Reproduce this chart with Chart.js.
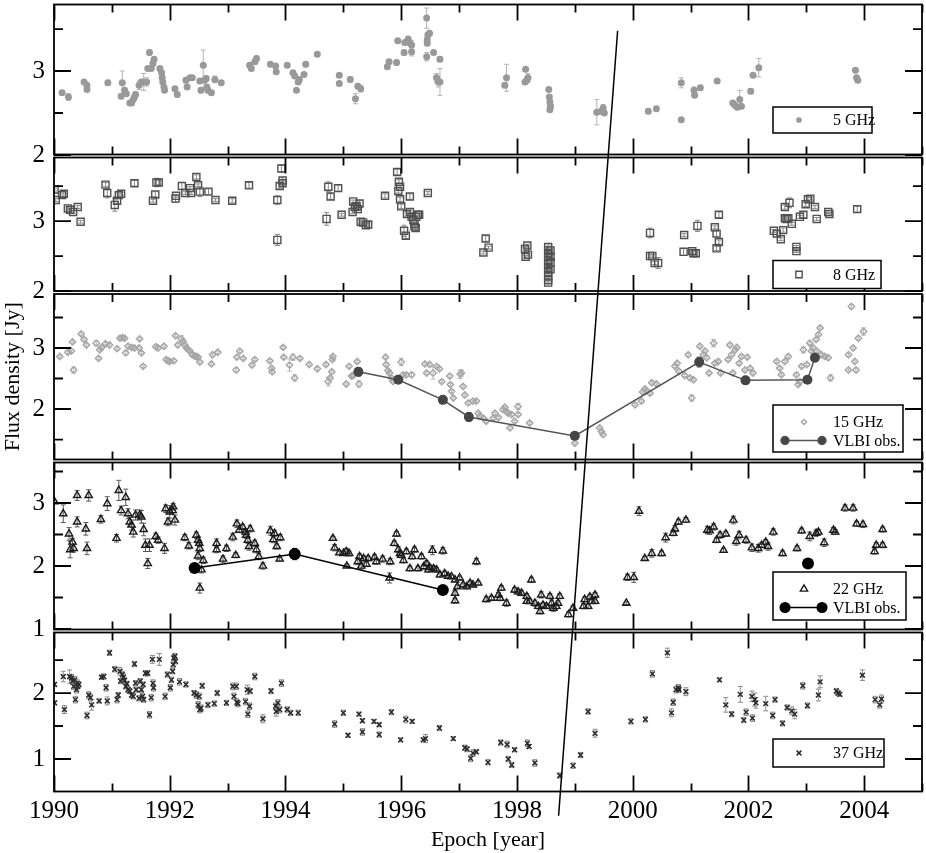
<!DOCTYPE html>
<html>
<head>
  <meta charset="utf-8">
  <title>Flux density light curves</title>
  <script src="https://cdn.jsdelivr.net/npm/chart.js"></script>
  <style>
    body { margin: 0; background: #fff; }
    #chart-container { width: 926px; height: 853px; position: relative; }
  </style>
</head>
<body>
  <div id="chart-container"><canvas id="myChart"></canvas></div>
  <script>
    // each point: [epoch (year), flux density (Jy), error (Jy)]
    const f5 = [
      [1990.14,2.74,0.02],[1990.25,2.69,0.04],[1990.52,2.87,0.02],[1990.57,2.83,0.02],[1990.57,2.78,0.02],[1990.93,2.86,0.03],
      [1991.16,2.70,0.02],[1991.18,2.86,0.14],[1991.22,2.77,0.03],[1991.25,2.73,0.02],[1991.31,2.62,0.02],[1991.34,2.62,0.02],
      [1991.37,2.66,0.02],[1991.39,2.69,0.03],[1991.41,2.72,0.03],[1991.47,2.83,0.05],[1991.51,2.87,0.03],[1991.55,2.87,0.10],
      [1991.60,2.87,0.05],[1991.62,3.03,0.02],[1991.65,3.22,0.03],[1991.68,3.03,0.02],[1991.71,3.09,0.03],[1991.73,3.14,0.02],
      [1991.83,3.03,0.02],[1991.86,2.98,0.02],[1991.87,2.92,0.03],[1991.88,2.87,0.02],[1991.90,2.81,0.02],[1991.91,2.77,0.02],
      [1992.09,2.79,0.02],[1992.13,2.72,0.03],[1992.28,2.89,0.03],[1992.30,2.81,0.02],[1992.35,2.92,0.02],[1992.39,2.92,0.02],
      [1992.52,2.88,0.03],[1992.54,2.77,0.03],[1992.58,3.07,0.18],[1992.60,2.89,0.03],[1992.63,2.91,0.03],[1992.64,2.81,0.03],
      [1992.66,2.77,0.03],[1992.72,2.74,0.02],[1992.78,2.90,0.04],[1992.89,2.86,0.02],[1993.38,3.07,0.02],[1993.41,3.03,0.02],
      [1993.47,3.11,0.03],[1993.50,3.15,0.03],[1993.74,3.08,0.02],[1993.83,3.06,0.02],[1993.84,2.99,0.02],[1994.03,3.07,0.02],
      [1994.13,2.98,0.02],[1994.16,2.94,0.02],[1994.19,2.77,0.02],[1994.22,2.87,0.02],[1994.24,2.90,0.02],[1994.32,2.96,0.02],
      [1994.35,3.08,0.03],[1994.55,3.20,0.02],[1994.93,2.95,0.02],[1994.93,2.85,0.02],[1995.12,2.90,0.03],[1995.21,2.67,0.06],
      [1995.25,2.82,0.03],[1995.30,2.79,0.04],[1995.76,3.05,0.02],[1995.79,3.11,0.02],[1995.92,3.10,0.03],[1995.94,3.36,0.02],
      [1996.05,3.22,0.03],[1996.06,3.34,0.02],[1996.12,3.38,0.02],[1996.14,3.34,0.03],[1996.18,3.31,0.05],[1996.18,3.23,0.05],
      [1996.44,3.63,0.12],[1996.45,3.37,0.03],[1996.46,3.43,0.03],[1996.49,3.45,0.03],[1996.44,3.17,0.05],[1996.45,3.33,0.03],
      [1996.56,3.22,0.02],[1996.61,2.92,0.05],[1996.64,2.87,0.06],[1996.67,3.14,0.03],[1996.67,2.87,0.16],[1997.79,2.83,0.03],
      [1997.82,2.92,0.16],[1998.14,2.87,0.02],[1998.15,3.02,0.02],[1998.17,2.89,0.02],[1998.19,2.92,0.05],[1998.55,2.78,0.02],
      [1998.56,2.69,0.02],[1998.57,2.63,0.02],[1998.58,2.58,0.02],[1998.57,2.54,0.02],[1999.38,2.51,0.15],[1999.46,2.52,0.03],
      [1999.49,2.56,0.04],[1999.51,2.50,0.03],[2000.27,2.52,0.03],[2000.41,2.55,0.02],[2000.84,2.86,0.06],[2000.84,2.42,0.02],
      [2001.06,2.77,0.04],[2001.07,2.71,0.02],[2001.17,2.80,0.03],[2001.46,2.88,0.02],[2001.73,2.62,0.02],[2001.77,2.59,0.02],
      [2001.81,2.57,0.02],[2001.85,2.66,0.11],[2001.88,2.58,0.02],[2002.04,2.76,0.03],[2002.08,2.95,0.02],[2002.18,3.04,0.11],
      [2003.85,3.01,0.02],[2003.87,2.92,0.02],[2003.89,2.89,0.02]
    ];
    const f8 = [
      [1990.01,3.45,0.02],[1990.03,3.30,0.02],[1990.14,3.37,0.03],[1990.17,3.39,0.04],[1990.24,3.18,0.02],[1990.28,3.16,0.02],
      [1990.33,3.13,0.02],[1990.41,3.20,0.02],[1990.46,2.99,0.02],[1990.89,3.52,0.03],[1990.92,3.40,0.07],[1991.05,3.23,0.09],
      [1991.09,3.29,0.04],[1991.12,3.37,0.03],[1991.16,3.39,0.02],[1991.39,3.54,0.04],[1991.71,3.29,0.02],[1991.75,3.38,0.04],
      [1991.77,3.55,0.06],[1991.81,3.55,0.03],[1992.10,3.32,0.05],[1992.11,3.36,0.02],[1992.21,3.50,0.05],[1992.27,3.40,0.02],
      [1992.35,3.47,0.02],[1992.37,3.40,0.02],[1992.46,3.63,0.03],[1992.49,3.51,0.02],[1992.52,3.42,0.07],[1992.67,3.42,0.04],
      [1992.79,3.30,0.02],[1993.08,3.29,0.03],[1993.37,3.51,0.04],[1993.86,3.30,0.06],[1993.86,2.73,0.08],[1993.90,3.50,0.04],
      [1993.93,3.75,0.05],[1993.95,3.58,0.04],[1993.95,3.54,0.03],[1994.71,3.03,0.09],[1994.74,3.49,0.07],[1994.78,3.35,0.04],
      [1994.91,3.47,0.04],[1994.97,3.09,0.02],[1995.16,3.13,0.02],[1995.17,3.28,0.02],[1995.20,3.20,0.03],[1995.23,3.21,0.03],
      [1995.25,3.17,0.02],[1995.28,3.25,0.04],[1995.30,2.99,0.02],[1995.34,2.98,0.02],[1995.39,2.94,0.02],[1995.43,2.95,0.04],
      [1995.72,3.36,0.03],[1995.93,3.70,0.04],[1995.96,3.56,0.03],[1995.98,3.49,0.02],[1995.95,3.43,0.03],[1995.98,3.31,0.03],
      [1996.00,3.21,0.03],[1996.05,2.86,0.08],[1996.08,2.79,0.04],[1996.10,3.10,0.03],[1996.15,3.35,0.04],[1996.15,3.13,0.03],
      [1996.18,3.06,0.02],[1996.21,3.01,0.02],[1996.23,2.96,0.02],[1996.23,2.92,0.03],[1996.25,2.90,0.03],[1996.26,3.06,0.02],
      [1996.29,3.09,0.02],[1996.31,3.09,0.02],[1996.46,3.40,0.02],[1997.42,2.55,0.02],[1997.46,2.75,0.04],[1997.51,2.62,0.02],
      [1998.14,2.60,0.02],[1998.15,2.49,0.02],[1998.18,2.65,0.02],[1998.19,2.52,0.02],[1998.54,2.63,0.03],[1998.54,2.58,0.02],
      [1998.54,2.54,0.02],[1998.54,2.49,0.02],[1998.54,2.44,0.02],[1998.54,2.39,0.02],[1998.54,2.33,0.02],[1998.54,2.27,0.02],
      [1998.54,2.21,0.02],[1998.54,2.16,0.02],[1998.54,2.12,0.03],[1998.58,2.58,0.02],[1998.58,2.49,0.02],[1998.58,2.41,0.02],
      [1998.58,2.31,0.02],[2000.30,2.83,0.07],[2000.30,2.50,0.02],[2000.34,2.50,0.02],[2000.38,2.40,0.02],[2000.44,2.40,0.08],
      [2000.89,2.80,0.02],[2000.88,2.56,0.05],[2001.03,2.57,0.03],[2001.05,2.54,0.03],[2001.09,2.54,0.04],[2001.12,2.93,0.08],
      [2001.42,2.91,0.02],[2001.45,2.82,0.04],[2001.49,3.09,0.04],[2001.49,2.70,0.03],[2001.45,2.61,0.03],[2002.44,2.86,0.02],
      [2002.49,2.82,0.04],[2002.56,2.74,0.02],[2002.60,2.87,0.03],[2002.63,3.04,0.02],[2002.63,3.20,0.03],[2002.71,3.26,0.07],
      [2002.66,3.03,0.03],[2002.69,3.04,0.04],[2002.75,2.96,0.02],[2002.83,2.63,0.02],[2002.83,2.57,0.02],[2002.89,3.06,0.02],
      [2002.95,3.09,0.04],[2002.99,3.24,0.03],[2003.03,3.31,0.05],[2003.07,3.32,0.02],[2003.15,3.20,0.02],[2003.18,3.03,0.02],
      [2003.38,3.13,0.02],[2003.40,3.10,0.02],[2003.88,3.17,0.04]
    ];
    const f15 = [
      [1990.10,2.86,0.02],[1990.24,2.93,0.02],[1990.30,2.95,0.02],[1990.32,3.10,0.02],[1990.34,2.64,0.05],[1990.47,3.23,0.02],
      [1990.52,3.14,0.02],[1990.56,3.05,0.02],[1990.73,3.08,0.04],[1990.77,2.83,0.02],[1990.79,2.97,0.02],[1990.82,3.01,0.02],
      [1990.89,3.07,0.02],[1990.96,3.05,0.02],[1991.09,2.99,0.02],[1991.14,3.16,0.02],[1991.18,3.17,0.03],[1991.22,3.16,0.02],
      [1991.24,2.92,0.03],[1991.28,3.03,0.02],[1991.34,3.01,0.02],[1991.39,3.00,0.02],[1991.47,3.00,0.02],[1991.48,3.15,0.02],
      [1991.51,2.92,0.02],[1991.54,2.70,0.02],[1991.76,3.02,0.02],[1991.80,3.00,0.02],[1991.90,3.03,0.02],[1991.94,2.81,0.03],
      [1991.97,2.79,0.04],[1992.00,2.78,0.02],[1992.07,2.79,0.02],[1992.10,3.20,0.02],[1992.14,3.05,0.02],[1992.20,3.15,0.05],
      [1992.23,3.11,0.02],[1992.26,3.05,0.02],[1992.29,3.00,0.02],[1992.32,2.97,0.02],[1992.35,2.95,0.02],[1992.39,2.89,0.02],
      [1992.43,2.87,0.02],[1992.46,2.86,0.02],[1992.49,2.85,0.02],[1992.52,2.77,0.02],[1992.72,2.74,0.02],[1992.74,2.89,0.02],
      [1992.83,2.93,0.02],[1993.15,2.64,0.03],[1993.16,2.85,0.02],[1993.21,2.95,0.02],[1993.27,2.83,0.02],[1993.42,2.72,0.02],
      [1993.47,2.81,0.02],[1993.73,2.79,0.02],[1993.76,2.67,0.02],[1993.77,2.61,0.02],[1993.96,3.01,0.02],[1993.97,2.85,0.02],
      [1994.07,2.72,0.10],[1994.13,2.85,0.05],[1994.16,2.51,0.05],[1994.25,2.83,0.02],[1994.41,2.73,0.02],[1994.55,2.66,0.02],
      [1994.70,2.73,0.02],[1994.74,2.45,0.07],[1994.77,2.51,0.02],[1994.80,2.61,0.02],[1994.81,2.81,0.02],[1994.82,2.86,0.02],
      [1995.05,2.41,0.02],[1995.10,2.70,0.02],[1995.14,2.54,0.02],[1995.17,2.55,0.02],[1995.24,2.78,0.02],[1995.27,2.41,0.05],
      [1995.73,2.85,0.02],[1995.74,2.73,0.02],[1995.77,2.63,0.02],[1995.80,2.59,0.02],[1995.83,2.51,0.02],[1995.86,2.45,0.02],
      [1995.92,2.50,0.02],[1996.00,2.77,0.06],[1996.03,2.56,0.02],[1996.09,2.56,0.02],[1996.18,2.56,0.03],[1996.41,2.74,0.02],
      [1996.44,2.59,0.02],[1996.49,2.73,0.02],[1996.55,2.59,0.10],[1996.61,2.70,0.02],[1996.66,2.66,0.02],[1996.70,2.45,0.02],
      [1996.84,2.54,0.02],[1996.85,2.40,0.02],[1996.87,2.29,0.02],[1996.90,2.18,0.02],[1997.02,2.57,0.07],[1997.04,2.59,0.05],
      [1997.07,2.37,0.02],[1997.10,2.23,0.02],[1997.16,2.10,0.02],[1997.24,2.13,0.02],[1997.30,2.13,0.02],[1997.33,1.93,0.02],
      [1997.36,1.88,0.02],[1997.42,1.85,0.02],[1997.47,1.80,0.02],[1997.59,1.85,0.02],[1997.62,1.93,0.02],[1997.68,1.86,0.02],
      [1997.76,1.99,0.02],[1997.79,2.03,0.02],[1997.82,1.96,0.02],[1997.85,1.93,0.02],[1997.88,1.69,0.02],[1997.91,1.91,0.02],
      [1997.96,1.80,0.02],[1998.02,2.04,0.05],[1998.02,1.91,0.02],[1998.22,1.77,0.02],[1999.00,1.44,0.02],[1999.43,1.69,0.02],
      [1999.46,1.63,0.02],[1999.49,1.58,0.02],[2000.04,2.07,0.02],[2000.15,2.13,0.02],[2000.17,2.28,0.02],[2000.21,2.33,0.02],
      [2000.24,2.30,0.02],[2000.30,2.26,0.02],[2000.33,2.43,0.02],[2000.41,2.41,0.02],[2000.73,2.70,0.02],[2000.77,2.75,0.02],
      [2000.80,2.62,0.02],[2000.90,2.55,0.02],[2000.96,2.89,0.02],[2000.99,2.51,0.02],[2001.02,2.18,0.05],[2001.05,2.48,0.02],
      [2001.16,3.03,0.02],[2001.22,2.89,0.02],[2001.25,2.95,0.02],[2001.28,2.84,0.02],[2001.32,2.59,0.02],[2001.40,3.08,0.06],
      [2001.42,2.75,0.02],[2001.48,2.78,0.02],[2001.52,2.59,0.02],[2001.65,2.81,0.02],[2001.68,3.05,0.02],[2001.71,2.89,0.02],
      [2001.73,2.59,0.02],[2001.77,2.97,0.02],[2001.80,3.01,0.02],[2001.84,2.75,0.02],[2001.88,2.86,0.02],[2001.94,2.64,0.02],
      [2001.98,2.85,0.02],[2002.03,2.67,0.02],[2002.08,2.59,0.02],[2002.49,2.78,0.02],[2002.54,2.67,0.02],[2002.57,2.56,0.02],
      [2002.63,2.78,0.02],[2002.69,2.86,0.02],[2002.83,2.56,0.02],[2002.86,2.40,0.02],[2002.89,2.45,0.02],[2002.92,2.70,0.02],
      [2002.95,2.97,0.05],[2003.01,2.73,0.02],[2003.06,3.08,0.02],[2003.09,2.95,0.02],[2003.12,3.00,0.02],[2003.17,3.14,0.02],
      [2003.21,3.22,0.02],[2003.24,3.33,0.02],[2003.18,2.95,0.02],[2003.26,2.89,0.02],[2003.32,2.86,0.02],[2003.38,2.84,0.02],
      [2003.42,2.51,0.05],[2003.73,2.89,0.02],[2003.73,2.64,0.02],[2003.78,3.68,0.03],[2003.81,3.00,0.02],[2003.84,2.78,0.02],
      [2003.86,2.64,0.03],[2003.90,3.16,0.02],[2003.99,3.27,0.06]
    ];
    const vlbi15 = [
      [1995.26,2.61,0.07],[1995.95,2.48,0.06],[1996.72,2.15,0.06],[1997.17,1.87,0.07],[1999.00,1.56,0.05],
      [2001.15,2.77,0.08],[2001.95,2.47,0.05],[2003.02,2.48,0.06],[2003.15,2.84,0.06]
    ];
    const f22 = [
      [1990.01,3.02,0.02],[1990.16,2.83,0.14],[1990.26,2.51,0.10],[1990.28,2.26,0.13],[1990.32,2.38,0.06],[1990.34,2.28,0.06],
      [1990.40,3.12,0.08],[1990.40,2.70,0.08],[1990.55,2.59,0.10],[1990.57,2.28,0.10],[1990.60,3.12,0.09],[1990.81,2.74,0.06],
      [1990.92,2.99,0.11],[1991.08,2.44,0.06],[1991.12,3.20,0.16],[1991.16,2.88,0.07],[1991.24,3.09,0.13],[1991.28,2.83,0.08],
      [1991.31,2.70,0.07],[1991.34,2.65,0.08],[1991.37,2.54,0.08],[1991.41,2.81,0.08],[1991.48,2.81,0.08],[1991.51,2.78,0.10],
      [1991.55,2.58,0.10],[1991.58,2.33,0.10],[1991.62,2.04,0.08],[1991.65,2.33,0.10],[1991.76,2.47,0.05],[1991.80,2.41,0.05],
      [1991.91,2.28,0.08],[1991.93,2.91,0.06],[1991.97,2.70,0.06],[1992.00,2.86,0.10],[1992.05,2.88,0.06],[1992.06,2.94,0.05],
      [1992.09,2.73,0.08],[1992.26,2.45,0.05],[1992.33,2.32,0.05],[1992.46,2.49,0.05],[1992.49,2.41,0.05],[1992.51,2.36,0.05],
      [1992.52,2.28,0.05],[1992.49,2.16,0.06],[1992.52,1.65,0.08],[1992.58,2.09,0.05],[1992.55,1.94,0.05],[1992.81,2.36,0.07],
      [1992.81,2.26,0.05],[1992.92,2.11,0.05],[1992.98,2.28,0.05],[1993.09,2.46,0.06],[1993.14,2.17,0.04],[1993.16,2.67,0.06],
      [1993.20,2.57,0.04],[1993.26,2.62,0.04],[1993.31,2.54,0.05],[1993.32,2.49,0.05],[1993.35,2.41,0.05],[1993.37,2.31,0.06],
      [1993.39,2.59,0.05],[1993.47,2.36,0.05],[1993.50,2.26,0.05],[1993.54,2.15,0.05],[1993.61,2.00,0.05],[1993.74,2.56,0.07],
      [1993.79,2.42,0.05],[1993.81,2.52,0.05],[1993.85,2.31,0.04],[1993.90,2.11,0.03],[1993.91,2.45,0.05],[1994.82,2.44,0.03],
      [1994.85,2.29,0.05],[1994.93,2.21,0.03],[1995.00,2.20,0.03],[1995.05,2.23,0.05],[1995.06,2.00,0.02],[1995.10,2.20,0.04],
      [1995.25,2.07,0.05],[1995.28,2.15,0.04],[1995.31,2.00,0.05],[1995.35,2.12,0.04],[1995.40,2.03,0.04],[1995.43,2.12,0.04],
      [1995.54,2.14,0.04],[1995.57,2.07,0.04],[1995.68,2.11,0.05],[1995.80,1.81,0.08],[1995.81,2.07,0.05],[1995.88,2.36,0.04],
      [1995.92,2.51,0.04],[1995.95,2.26,0.05],[1995.98,2.20,0.04],[1996.00,2.17,0.04],[1996.04,2.09,0.04],[1996.09,2.23,0.04],
      [1996.15,1.96,0.04],[1996.19,2.15,0.04],[1996.23,2.26,0.04],[1996.29,1.96,0.04],[1996.35,2.15,0.04],[1996.39,1.99,0.04],
      [1996.44,2.04,0.04],[1996.47,1.94,0.04],[1996.49,1.98,0.04],[1996.54,2.25,0.07],[1996.56,1.96,0.04],[1996.61,1.94,0.04],
      [1996.67,1.86,0.04],[1996.72,2.24,0.05],[1996.75,1.88,0.04],[1996.81,1.84,0.03],[1996.87,1.83,0.03],[1996.93,1.78,0.03],
      [1996.97,1.67,0.03],[1996.93,1.57,0.04],[1996.93,1.45,0.04],[1997.01,1.81,0.03],[1997.07,1.70,0.03],[1997.13,1.67,0.03],
      [1997.19,1.73,0.03],[1997.24,1.70,0.03],[1997.33,1.73,0.03],[1997.30,2.07,0.05],[1997.47,1.47,0.04],[1997.56,1.49,0.03],
      [1997.68,1.54,0.04],[1997.71,1.49,0.04],[1997.73,1.65,0.04],[1997.82,1.41,0.05],[1997.96,1.62,0.04],[1998.02,1.59,0.04],
      [1998.08,1.57,0.04],[1998.17,1.52,0.04],[1998.17,1.44,0.04],[1998.22,1.44,0.04],[1998.25,1.78,0.04],[1998.31,1.41,0.05],
      [1998.37,1.36,0.04],[1998.40,1.28,0.04],[1998.42,1.54,0.05],[1998.45,1.38,0.04],[1998.51,1.36,0.04],[1998.57,1.52,0.04],
      [1998.60,1.41,0.05],[1998.63,1.33,0.05],[1998.68,1.36,0.04],[1998.71,1.41,0.04],[1998.74,1.52,0.04],[1998.89,1.23,0.04],
      [1998.97,1.33,0.04],[1999.15,1.36,0.04],[1999.17,1.47,0.04],[1999.23,1.36,0.04],[1999.26,1.51,0.04],[1999.29,1.44,0.04],
      [1999.35,1.54,0.04],[1999.35,1.44,0.04],[1999.89,1.41,0.02],[1999.91,1.82,0.05],[2000.02,1.82,0.08],[2000.11,2.87,0.07],
      [2000.21,2.12,0.03],[2000.33,2.20,0.06],[2000.50,2.20,0.04],[2000.57,2.45,0.07],[2000.70,2.52,0.04],[2000.73,2.59,0.05],
      [2000.79,2.70,0.04],[2000.92,2.73,0.04],[2001.29,2.57,0.06],[2001.33,2.56,0.06],[2001.40,2.62,0.05],[2001.45,2.41,0.04],
      [2001.51,2.49,0.05],[2001.57,2.25,0.03],[2001.61,2.51,0.04],[2001.74,2.73,0.06],[2001.79,2.39,0.06],[2001.84,2.49,0.06],
      [2001.96,2.41,0.05],[2002.06,2.29,0.06],[2002.17,2.28,0.06],[2002.23,2.33,0.04],[2002.30,2.38,0.04],[2002.34,2.31,0.06],
      [2002.43,2.54,0.05],[2002.59,2.20,0.04],[2002.84,2.28,0.04],[2002.92,2.56,0.04],[2003.06,2.47,0.07],[2003.17,2.52,0.05],
      [2003.21,2.54,0.04],[2003.31,2.37,0.06],[2003.47,2.57,0.04],[2003.50,2.54,0.04],[2003.67,2.92,0.05],[2003.81,2.92,0.05],
      [2003.87,2.67,0.04],[2003.98,2.66,0.05],[2004.18,2.23,0.04],[2004.21,2.33,0.04],[2004.32,2.33,0.04],[2004.32,2.58,0.04]
    ];
    const vlbi22 = [[1992.43,1.97,0.02],[1994.16,2.19,0.09],[1996.72,1.62,0.02]];
    const vlbi22Late = [[2003.03,2.04,0.02]];
    const f37 = [
      [1990.01,2.13,0.03],[1990.01,1.85,0.03],[1990.16,2.25,0.08],[1990.18,1.75,0.06],[1990.27,2.25,0.10],[1990.30,2.23,0.05],
      [1990.32,2.18,0.05],[1990.34,2.10,0.05],[1990.36,2.20,0.05],[1990.37,1.90,0.05],[1990.39,2.05,0.05],[1990.40,2.15,0.05],
      [1990.41,2.10,0.04],[1990.43,2.13,0.04],[1990.57,1.66,0.05],[1990.60,1.97,0.05],[1990.63,1.93,0.05],[1990.65,1.82,0.08],
      [1990.78,1.88,0.03],[1990.82,2.24,0.03],[1990.86,2.25,0.04],[1990.90,2.08,0.05],[1990.92,1.88,0.06],[1990.96,2.61,0.04],
      [1991.05,2.36,0.04],[1991.09,1.90,0.05],[1991.11,1.97,0.04],[1991.14,2.33,0.06],[1991.15,2.18,0.04],[1991.18,2.28,0.05],
      [1991.20,2.24,0.05],[1991.22,2.19,0.05],[1991.24,2.10,0.04],[1991.26,2.14,0.04],[1991.28,2.05,0.04],[1991.31,2.03,0.04],
      [1991.34,1.97,0.04],[1991.37,1.95,0.04],[1991.39,2.44,0.04],[1991.41,2.15,0.04],[1991.42,2.05,0.04],[1991.47,1.92,0.04],
      [1991.49,2.18,0.04],[1991.51,2.05,0.04],[1991.53,1.95,0.04],[1991.54,2.13,0.04],[1991.55,1.90,0.04],[1991.58,2.30,0.04],
      [1991.62,2.30,0.04],[1991.65,1.67,0.05],[1991.68,1.93,0.05],[1991.70,2.51,0.06],[1991.71,2.15,0.05],[1991.72,2.08,0.05],
      [1991.82,2.51,0.09],[1991.92,1.95,0.05],[1991.96,2.28,0.04],[1992.01,2.08,0.05],[1992.03,2.20,0.04],[1992.05,2.33,0.04],
      [1992.06,2.43,0.04],[1992.07,2.53,0.04],[1992.09,2.56,0.04],[1992.10,2.48,0.04],[1992.17,2.17,0.05],[1992.28,2.13,0.04],
      [1992.42,2.00,0.04],[1992.46,1.97,0.05],[1992.49,1.82,0.05],[1992.51,1.95,0.05],[1992.52,1.75,0.05],[1992.54,1.77,0.05],
      [1992.56,2.11,0.04],[1992.66,1.82,0.04],[1992.77,1.84,0.04],[1992.82,2.00,0.04],[1992.98,1.85,0.04],[1993.09,2.10,0.05],
      [1993.11,1.95,0.05],[1993.15,2.10,0.05],[1993.16,1.86,0.05],[1993.18,1.84,0.05],[1993.31,1.87,0.05],[1993.34,2.05,0.07],
      [1993.35,1.68,0.05],[1993.38,1.80,0.05],[1993.39,2.03,0.04],[1993.47,2.25,0.05],[1993.61,1.61,0.06],[1993.75,2.03,0.04],
      [1993.83,1.80,0.05],[1993.84,1.72,0.07],[1993.87,1.85,0.05],[1993.90,1.75,0.05],[1993.93,2.15,0.05],[1994.03,1.75,0.04],
      [1994.09,1.70,0.04],[1994.22,1.70,0.04],[1994.85,1.53,0.05],[1995.00,1.70,0.04],[1995.08,1.36,0.03],[1995.27,1.68,0.03],
      [1995.33,1.58,0.03],[1995.33,1.41,0.05],[1995.53,1.57,0.03],[1995.62,1.52,0.03],[1995.62,1.37,0.04],[1995.83,1.71,0.04],
      [1995.99,1.29,0.03],[1996.08,1.60,0.05],[1996.19,1.57,0.03],[1996.38,1.29,0.03],[1996.42,1.31,0.06],[1996.66,1.47,0.04],
      [1996.90,1.31,0.03],[1997.10,1.17,0.04],[1997.14,1.15,0.04],[1997.20,1.01,0.05],[1997.24,1.09,0.05],[1997.30,1.11,0.03],
      [1997.50,0.95,0.04],[1997.72,1.25,0.04],[1997.83,1.22,0.05],[1997.85,1.00,0.04],[1997.91,0.91,0.04],[1997.96,1.14,0.03],
      [1998.18,1.24,0.05],[1998.21,1.19,0.03],[1998.31,0.94,0.05],[1998.74,0.75,0.04],[1998.97,0.90,0.04],[1999.10,1.06,0.04],
      [1999.23,1.72,0.04],[1999.35,1.39,0.06],[1999.97,1.57,0.04],[2000.22,1.60,0.04],[2000.34,2.29,0.05],[2000.60,2.61,0.07],
      [2000.67,1.70,0.06],[2000.70,1.86,0.05],[2000.75,2.05,0.05],[2000.79,2.08,0.05],[2000.80,2.05,0.04],[2000.92,2.02,0.06],
      [2001.50,2.20,0.03],[2001.61,1.82,0.11],[2001.71,1.68,0.04],[2001.86,1.98,0.12],[2001.92,1.59,0.04],[2001.96,1.71,0.05],
      [2002.06,1.95,0.08],[2002.07,1.62,0.05],[2002.11,1.90,0.10],[2002.13,1.85,0.08],[2002.30,1.84,0.11],[2002.42,1.66,0.05],
      [2002.46,1.90,0.04],[2002.59,1.54,0.04],[2002.67,1.78,0.04],[2002.75,1.73,0.06],[2002.80,1.68,0.07],[2002.94,2.11,0.05],
      [2003.02,1.81,0.04],[2003.21,1.97,0.09],[2003.24,2.17,0.09],[2003.52,2.03,0.04],[2003.55,2.00,0.03],[2003.58,1.98,0.03],
      [2003.97,2.27,0.08],[2004.19,1.90,0.05],[2004.27,1.82,0.05],[2004.30,1.91,0.06]
    ];

    // axis ticks and ranges
    const yearTicks = [1990, 1991, 1992, 1993, 1994, 1995, 1996, 1997, 1998, 1999, 2000, 2001, 2002, 2003, 2004, 2005];
    const p1Ticks = [2, 2.5, 3, 3.5];
    const p2Ticks = [2, 2.5, 3, 3.5];
    const p3Ticks = [1.5, 2, 2.5, 3, 3.5];
    const p4Ticks = [1, 1.5, 2, 2.5, 3, 3.5];
    const p5Ticks = [1, 1.5, 2, 2.5];
    // the straight line drawn across all panels: [epoch, flux, panel]
    const guideYear = [1999.74, 1998.72];
    const guideFlux = [3.48, 0.14];
    const guideAxis = ['y1', 'y5'];

    const serif = "'Liberation Serif', 'Times New Roman', serif";
    Chart.defaults.color = '#000';
    Chart.defaults.font.family = serif;

    const pts = arr => arr.map(p => ({x: p[0], y: p[1]}));
    const errs = arr => arr.map(p => p[2]);

    function panelAxis(ticks, min, max, weight, title) {
      return {
        type: 'linear', position: 'left', stack: 'flux', stackWeight: weight,
        min: min, max: max,
        afterBuildTicks: s => { s.ticks = ticks.map(v => ({value: v})); },
        afterFit: s => { s.width = 54; s.paddingTop = 0; s.paddingBottom = 0; },
        grid: {display: false, drawTicks: false},
        border: {display: false},
        ticks: {
          font: {family: serif, size: 25}, color: '#000', padding: 9, autoSkip: false,
          callback: v => Number.isInteger(v) ? String(v) : ''
        },
        title: title ? {display: true, text: title, font: {family: serif, size: 22}, color: '#000', padding: {top: 0, bottom: 0}} : {display: false}
      };
    }

    // error bars under the markers
    const errorBars = {
      id: 'errorBars',
      beforeDatasetsDraw(chart) {
        const ctx = chart.ctx;
        const area = chart.chartArea;
        chart.data.datasets.forEach((ds, i) => {
          if (!ds.errors) return;
          const meta = chart.getDatasetMeta(i);
          const ys = chart.scales[ds.yAxisID];
          ctx.save();
          ctx.beginPath();
          ctx.rect(area.left, ys.top, area.right - area.left, ys.bottom - ys.top);
          ctx.clip();
          ctx.strokeStyle = ds.errorColor;
          ctx.lineWidth = 1;
          meta.data.forEach((el, j) => {
            const e = ds.errors[j];
            if (!e) return;
            const v = ds.data[j].y;
            const y1 = ys.getPixelForValue(v + e);
            const y2 = ys.getPixelForValue(v - e);
            const x = el.x;
            ctx.beginPath();
            ctx.moveTo(x, y1); ctx.lineTo(x, y2);
            ctx.moveTo(x - 2.5, y1); ctx.lineTo(x + 2.5, y1);
            ctx.moveTo(x - 2.5, y2); ctx.lineTo(x + 2.5, y2);
            ctx.stroke();
          });
          ctx.restore();
        });
      }
    };

    // boxes round each panel, with ticks pointing inwards
    const panelIds = ['y1', 'y2', 'y3', 'y4', 'y5'];
    const frames = {
      id: 'frames',
      afterDatasetsDraw(chart) {
        const ctx = chart.ctx;
        const xs = chart.scales.x;
        const left = chart.chartArea.left, right = chart.chartArea.right;
        ctx.save();
        ctx.strokeStyle = '#000';
        ctx.lineWidth = 1.8;
        panelIds.forEach(id => {
          const ys = chart.scales[id];
          const top = ys.top + 1.5, bottom = ys.bottom - 1.5;
          ctx.strokeRect(left, top, right - left, bottom - top);
          ctx.beginPath();
          xs.ticks.forEach(t => {
            const px = Math.round(xs.getPixelForValue(t.value)) + 0.5;
            const len = t.value % 2 === 0 ? 16 : 8;
            ctx.moveTo(px, top); ctx.lineTo(px, top + len);
            ctx.moveTo(px, bottom); ctx.lineTo(px, bottom - len);
          });
          ys.ticks.forEach(t => {
            const py = ys.getPixelForValue(t.value);
            const len = Number.isInteger(t.value) ? 17 : 9;
            ctx.moveTo(left, py); ctx.lineTo(left + len, py);
            ctx.moveTo(right, py); ctx.lineTo(right - len, py);
          });
          ctx.stroke();
        });
        ctx.restore();
      }
    };

    const legendBoxes = [
      {axis: 'y1', width: 99, height: 26, lift: 23, rows: [{ds: 0, text: '5 GHz', size: 0.6}]},
      {axis: 'y2', width: 108, height: 28, lift: 4, rows: [{ds: 1, text: '8 GHz', size: 0.9}]},
      {axis: 'y3', width: 130, height: 47, lift: 9, rows: [{ds: 2, text: '15 GHz', size: 0.8}, {ds: 3, text: 'VLBI obs.', line: true, size: 0.8}]},
      {axis: 'y4', width: 133, height: 48, lift: 11, rows: [{ds: 4, text: '22 GHz', size: 1}, {ds: 5, text: 'VLBI obs.', line: true, size: 0.8}]},
      {axis: 'y5', width: 111, height: 28, lift: 26, rows: [{ds: 7, text: '37 GHz', size: 1}]}
    ];

    function marker(ctx, ds, x, y, scale) {
      ctx.fillStyle = ds.pointBackgroundColor || ds.backgroundColor;
      ctx.strokeStyle = ds.pointBorderColor || ds.borderColor;
      ctx.lineWidth = ds.pointBorderWidth != null ? ds.pointBorderWidth : 1;
      const r = ds.pointRadius * scale;
      if (Chart.helpers && Chart.helpers.drawPoint) {
        Chart.helpers.drawPoint(ctx, {pointStyle: ds.pointStyle, radius: r, borderWidth: ctx.lineWidth, rotation: 0}, x, y);
      } else {
        ctx.beginPath(); ctx.arc(x, y, r, 0, Math.PI * 2); ctx.fill(); ctx.stroke();
      }
    }

    const panelLegends = {
      id: 'panelLegends',
      afterDraw(chart) {
        const ctx = chart.ctx;
        const left = chart.chartArea.left + 719;
        ctx.save();
        legendBoxes.forEach(b => {
          const ys = chart.scales[b.axis];
          const top = ys.bottom - b.lift - b.height;
          ctx.fillStyle = '#fff';
          ctx.fillRect(left, top, b.width, b.height);
          ctx.strokeStyle = '#000';
          ctx.lineWidth = 1.5;
          ctx.strokeRect(left, top, b.width, b.height);
          b.rows.forEach((r, k) => {
            const cy = b.rows.length === 1 ? top + b.height / 2 : top + 17 + k * 18.5;
            const ds = chart.data.datasets[r.ds];
            const mx = b.rows.length === 1 ? left + 26 : left + 31;
            if (r.line) {
              ctx.strokeStyle = ds.borderColor;
              ctx.lineWidth = 1.5;
              ctx.beginPath(); ctx.moveTo(left + 12, cy); ctx.lineTo(left + 49, cy); ctx.stroke();
              marker(ctx, ds, left + 12, cy, r.size);
              marker(ctx, ds, left + 49, cy, r.size);
            } else {
              marker(ctx, ds, mx, cy, r.size);
            }
            ctx.fillStyle = '#000';
            ctx.font = '16px ' + serif;
            ctx.textBaseline = 'middle';
            ctx.textAlign = 'left';
            ctx.fillText(r.text, left + 60, cy + 1);
          });
        });
        // the straight line across the panels
        const xs = chart.scales.x;
        ctx.strokeStyle = '#000';
        ctx.lineWidth = 1.5;
        ctx.beginPath();
        ctx.moveTo(xs.getPixelForValue(guideYear[0]), chart.scales[guideAxis[0]].getPixelForValue(guideFlux[0]));
        ctx.lineTo(xs.getPixelForValue(guideYear[1]), chart.scales[guideAxis[1]].getPixelForValue(guideFlux[1]));
        ctx.stroke();
        ctx.restore();
      }
    };

    const ctx = document.getElementById('myChart').getContext('2d');
    new Chart(ctx, {
      type: 'scatter',
      data: {
        datasets: [
          {label: '5 GHz', data: pts(f5), errors: errs(f5), errorColor: '#b4b4b4', yAxisID: 'y1',
           pointStyle: 'circle', pointRadius: 3.5, backgroundColor: '#999999', borderColor: '#999999', pointBorderWidth: 0, order: 2},
          {label: '8 GHz', data: pts(f8), errors: errs(f8), errorColor: '#8a8a8a', yAxisID: 'y2',
           pointStyle: 'rect', pointRadius: 5, backgroundColor: 'rgba(255,255,255,0)', borderColor: '#505050', pointBorderWidth: 1.4, order: 2},
          {label: '15 GHz', data: pts(f15), errors: errs(f15), errorColor: '#b8b8b8', yAxisID: 'y3',
           pointStyle: 'rectRot', pointRadius: 3.2, backgroundColor: 'rgba(255,255,255,0)', borderColor: '#a6a6a6', pointBorderWidth: 1.4, order: 2},
          {label: 'VLBI obs.', data: pts(vlbi15), errors: errs(vlbi15), errorColor: '#333333', yAxisID: 'y3', showLine: true,
           pointStyle: 'circle', pointRadius: 5, backgroundColor: '#454545', borderColor: '#555555', borderWidth: 1.5, pointBorderWidth: 0, order: 0},
          {label: '22 GHz', data: pts(f22), errors: errs(f22), errorColor: '#5a5a5a', yAxisID: 'y4',
           pointStyle: 'triangle', pointRadius: 4.2, backgroundColor: 'rgba(255,255,255,0)', borderColor: '#1a1a1a', pointBorderWidth: 1.4, order: 2},
          {label: 'VLBI obs.', data: pts(vlbi22), errors: errs(vlbi22), errorColor: '#000000', yAxisID: 'y4', showLine: true,
           pointStyle: 'circle', pointRadius: 6, backgroundColor: '#000000', borderColor: '#000000', borderWidth: 1.5, pointBorderWidth: 0, order: 0},
          {label: 'VLBI obs. 2003', data: pts(vlbi22Late), errors: errs(vlbi22Late), errorColor: '#000000', yAxisID: 'y4',
           pointStyle: 'circle', pointRadius: 6, backgroundColor: '#000000', borderColor: '#000000', pointBorderWidth: 0, order: 0},
          {label: '37 GHz', data: pts(f37), errors: errs(f37), errorColor: '#8c8c8c', yAxisID: 'y5',
           pointStyle: 'crossRot', pointRadius: 3.4, backgroundColor: '#2a2a2a', borderColor: '#2a2a2a', pointBorderWidth: 1.5, order: 2}
        ]
      },
      options: {
        responsive: true,
        maintainAspectRatio: false,
        animation: false,
        events: [],
        layout: {autoPadding: false, padding: {top: 3, right: 4, left: 0, bottom: 0}},
        plugins: {legend: {display: false}, tooltip: {enabled: false}},
        scales: {
          x: {
            type: 'linear', position: 'bottom', min: 1990, max: 2005,
            afterBuildTicks: s => { s.ticks = yearTicks.map(v => ({value: v})); },
            afterFit: s => { s.height = 60; s.paddingLeft = 0; s.paddingRight = 0; },
            grid: {display: false, drawTicks: false},
            border: {display: false},
            ticks: {
              font: {family: serif, size: 25}, color: '#000', padding: 3, autoSkip: false, maxRotation: 0,
              callback: v => (v % 2 === 0 ? String(v) : '')
            },
            title: {display: true, text: 'Epoch [year]', font: {family: serif, size: 22}, color: '#000', padding: {top: 0, bottom: 0}}
          },
          y5: panelAxis(p5Ticks, 0.485, 2.94, 162),
          y4: panelAxis(p4Ticks, 0.968, 3.667, 170),
          y3: panelAxis(p3Ticks, 1.148, 3.91, 168.5, 'Flux density [Jy]'),
          y2: panelAxis(p2Ticks, 1.979, 3.929, 136.5),
          y1: panelAxis(p1Ticks, 1.988, 3.81, 153)
        }
      },
      plugins: [errorBars, frames, panelLegends]
    });
  </script>
</body>
</html>
